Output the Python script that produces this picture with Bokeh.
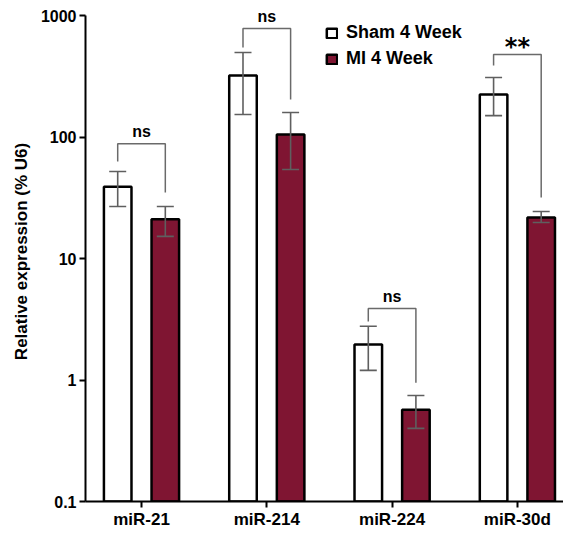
from bokeh.plotting import figure
from bokeh.models import (ColumnDataSource, Range1d, FixedTicker, Whisker, TeeHead,
                          Legend, LegendItem, CustomJSTickFormatter)
from bokeh.core.properties import value
from bokeh.embed import file_html
from bokeh.resources import INLINE

categories = ["miR-21", "miR-214", "miR-224", "miR-30d"]
sham_mean = [39, 321, 1.96, 224]
sham_upper = [52, 496, 2.77, 309]
sham_lower = [26.8, 153, 1.2, 150]
mi_mean = [21, 105, 0.57, 21.7]
mi_upper = [26.8, 159, 0.745, 24.4]
mi_lower = [15.2, 54, 0.40, 19.8]
bracket_top = [88, 780, 3.87, 477]
bracket_left = [63, 545, 3.03, 387]
bracket_right = [35, 204, 0.95, 31.8]
sig_labels = ["ns", "ns", "ns", "**"]
y_ticks = [0.1, 1, 10, 100, 1000]
series_names = ["Sham 4 Week", "MI 4 Week"]

OFF = 0.19
BW = 0.22
FONT = "Liberation Sans"
MAROON = "#7f1532"

idx = list(range(len(categories)))
sham_src = ColumnDataSource(dict(x=[i - OFF for i in idx], top=sham_mean,
                                 upper=sham_upper, lower=sham_lower))
mi_src = ColumnDataSource(dict(x=[i + OFF for i in idx], top=mi_mean,
                               upper=mi_upper, lower=mi_lower))

p = figure(frame_width=478, frame_height=500, y_axis_type="log",
           x_range=Range1d(-0.447, 3.368), y_range=Range1d(0.1, 1304),
           output_backend="svg", toolbar_location=None,
           min_border_left=85, min_border_top=1, min_border_right=0, min_border_bottom=18)
p.outline_line_color = None
p.xgrid.visible = False
p.ygrid.visible = False
p.background_fill_color = "white"

r_sham = p.vbar(x="x", top="top", bottom=0.1, width=BW, source=sham_src,
                fill_color="white", line_color="black", line_width=2.5)
r_mi = p.vbar(x="x", top="top", bottom=0.1, width=BW, source=mi_src,
              fill_color=MAROON, line_color="black", line_width=2.5)

for src in (sham_src, mi_src):
    w = Whisker(source=src, base="x", upper="upper", lower="lower",
                line_color="#5f5f5f", line_width=1.6, level="annotation",
                upper_head=TeeHead(size=17, line_color="#5f5f5f", line_width=1.6),
                lower_head=TeeHead(size=17, line_color="#5f5f5f", line_width=1.6))
    p.add_layout(w)

xs = [[i - OFF, i - OFF, i + OFF, i + OFF] for i in idx]
ys = [[bracket_left[i], bracket_top[i], bracket_top[i], bracket_right[i]] for i in idx]
p.multi_line(xs=xs, ys=ys, line_color="#6a6a6a", line_width=1.5)

ns_i = [i for i in idx if sig_labels[i] == "ns"]
st_i = [i for i in idx if sig_labels[i] != "ns"]
p.text(x=[i for i in ns_i], y=[bracket_top[i] for i in ns_i],
       text=[sig_labels[i] for i in ns_i], text_align="center", text_baseline="alphabetic",
       y_offset=-12, text_font=value(FONT), text_font_style="bold",
       text_font_size="16px", text_color="black")
p.text(x=[i for i in st_i], y=[bracket_top[i] for i in st_i],
       text=[sig_labels[i] for i in st_i], text_align="center", text_baseline="alphabetic",
       y_offset=-8, text_font=value("DejaVu Sans"), text_font_style="bold",
       text_font_size="24px", text_color="black")

# axes
for ax in (p.xaxis[0], p.yaxis[0]):
    ax.axis_line_width = 2
    ax.axis_line_color = "black"
    ax.major_tick_line_width = 2
    ax.major_tick_line_color = "black"
    ax.major_tick_out = 6
    ax.major_tick_in = 0
    ax.minor_tick_line_color = None
    ax.major_label_text_font = FONT
    ax.major_label_text_font_style = "bold"
    ax.major_label_text_font_size = "16px"
    ax.major_label_text_color = "black"

p.xaxis.ticker = FixedTicker(ticks=idx)
p.xaxis.major_label_overrides = {i: c for i, c in zip(idx, categories)}
p.xaxis.major_label_standoff = 2
p.xaxis.major_label_text_font_size = "17px"

p.yaxis.ticker = FixedTicker(ticks=y_ticks, minor_ticks=[])
p.yaxis.bounds = (y_ticks[0], y_ticks[-1])
p.yaxis.formatter = CustomJSTickFormatter(code="return String(tick);")
p.yaxis.major_label_standoff = 3
p.yaxis.axis_label = "Relative expression (% U6)"
p.yaxis.axis_label_text_font = FONT
p.yaxis.axis_label_text_font_style = "bold"
p.yaxis.axis_label_text_font_size = "17px"
p.yaxis.axis_label_text_color = "black"
p.yaxis.axis_label_standoff = 7

legend = Legend(items=[LegendItem(label=series_names[0], renderers=[r_sham]),
                       LegendItem(label=series_names[1], renderers=[r_mi])],
                location=(240, 432), orientation="vertical",
                glyph_width=13, glyph_height=12, label_height=20, spacing=5,
                padding=0, margin=0, label_standoff=8,
                border_line_color=None, background_fill_alpha=0,
                label_text_font=FONT, label_text_font_style="bold",
                label_text_font_size="18px", label_text_color="black")
p.add_layout(legend)

open("out.html", "w").write(file_html(p, INLINE))
